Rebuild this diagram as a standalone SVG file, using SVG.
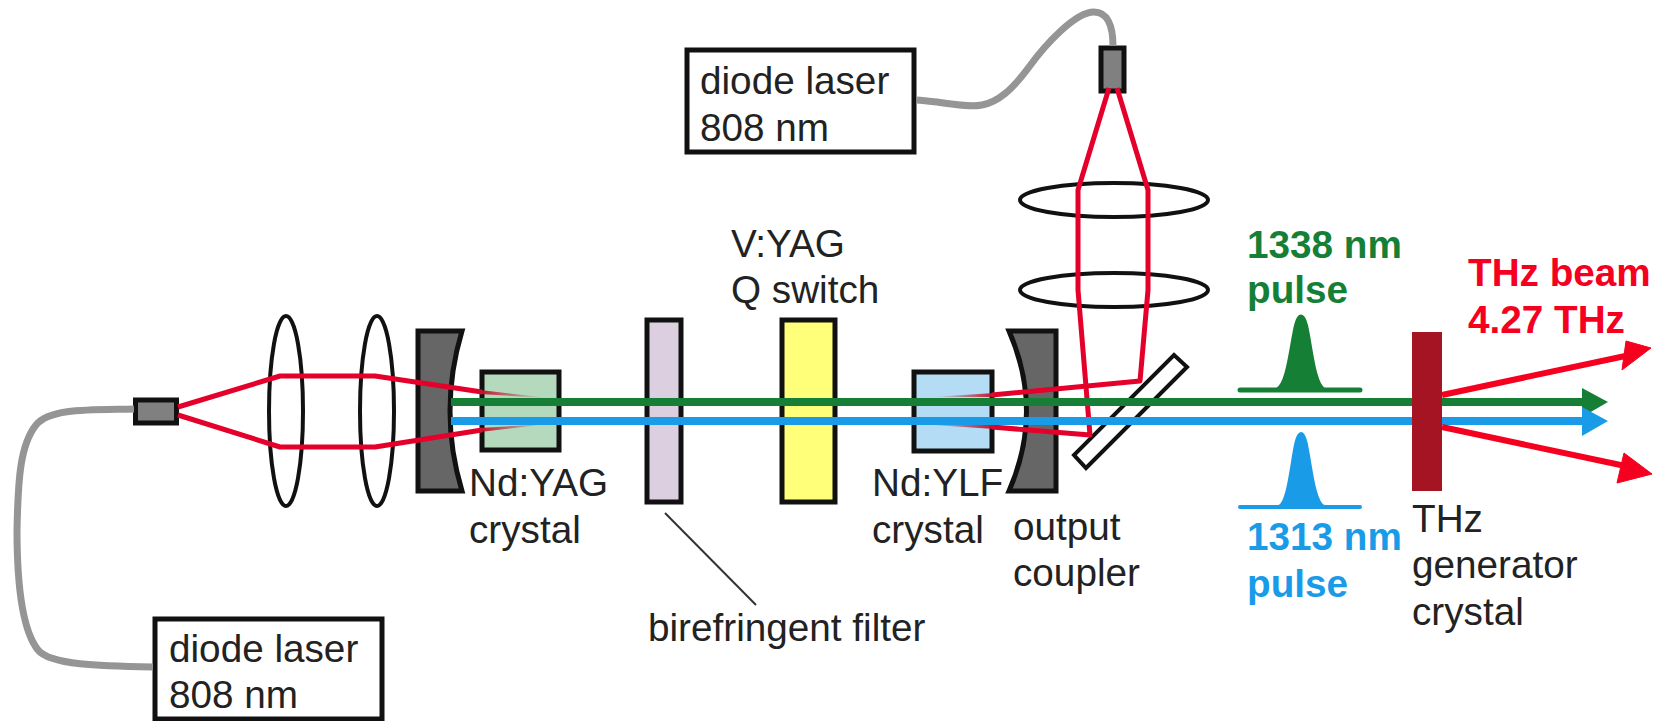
<svg xmlns="http://www.w3.org/2000/svg" width="1664" height="721" viewBox="0 0 1664 721">
<style>
text{font-family:"Liberation Sans",Arial,sans-serif;font-size:38.7px;fill:#222}
.b{font-weight:bold}
.g{fill:#158035}.bl{fill:#1a9be8}.r{fill:#f5001e}
.box{fill:#fff;stroke:#111;stroke-width:5}
.el{fill:none;stroke:#111;stroke-width:4}
.op{stroke:#111;stroke-width:5}
.dk{fill:#666}
.src{fill:#808080;stroke:#111;stroke-width:5}
.fib{fill:none;stroke:#959595;stroke-width:7}
.red{fill:none;stroke:#e4002b;stroke-width:5;stroke-linejoin:round}
</style>
<defs>
<linearGradient id="fadeL" x1="0" x2="1" y1="0" y2="0"><stop offset="0" stop-color="#c8142c"/><stop offset="1" stop-color="#a83040" stop-opacity="0"/></linearGradient>
<linearGradient id="fadeR" x1="1" x2="0" y1="0" y2="0"><stop offset="0" stop-color="#c8142c"/><stop offset="1" stop-color="#a83040" stop-opacity="0"/></linearGradient>
</defs>
<g id="laser-bottom"><rect class="box" x="155" y="619" width="227" height="100"/><text x="169" y="662">diode laser</text><text x="169" y="708">808 nm</text></g>
<g id="laser-top"><rect class="box" x="687" y="50" width="227" height="102"/><text x="700" y="94">diode laser</text><text x="700" y="141">808 nm</text></g>
<g id="lens-1"><ellipse class="el" cx="286" cy="411" rx="17" ry="95"/></g>
<g id="lens-2"><ellipse class="el" cx="377" cy="411" rx="17" ry="95"/></g>
<g id="lens-3"><ellipse class="el" cx="1114" cy="200" rx="94" ry="17"/></g>
<g id="lens-4"><ellipse class="el" cx="1114" cy="290" rx="94" ry="17"/></g>
<g id="mirror"><path class="op dk" d="M418 331H462Q438 411 462 491H418Z"/></g>
<g id="nd-yag"><rect class="op" fill="#b5d9bd" x="482" y="372" width="77" height="78"/><text x="469" y="496">Nd:YAG</text><text x="469" y="543">crystal</text></g>
<g id="filter"><rect class="op" fill="#dcd0e0" x="647" y="320" width="34" height="182"/><text x="648" y="641">birefringent filter</text></g>
<g id="q-switch"><rect class="op" fill="#ffff7a" x="782" y="320" width="53" height="182"/><text x="731" y="257">V:YAG</text><text x="731" y="303">Q switch</text></g>
<g id="nd-ylf"><rect class="op" fill="#b5dcf5" x="914" y="372" width="78" height="79"/><text x="872" y="496">Nd:YLF</text><text x="872" y="543">crystal</text></g>
<g id="coupler"><path class="op dk" d="M1009 331H1056V491H1009Q1044 411 1009 331Z"/><text x="1013" y="540">output</text><text x="1013" y="586">coupler</text></g>
<g id="splitter"><path fill="#fff" stroke="#111" stroke-width="4" d="M1174 355L1187 367L1086 468L1074 455Z"/></g>
<g id="source-left"><rect class="src" x="135.500" y="400" width="41" height="23"/></g>
<g id="source-top"><rect class="src" x="1101" y="48" width="23" height="43"/></g>
<g id="connectors">
<path class="fib" d="M134 409C90 410 50 408 36 425C20 445 18 480 17 530C17 580 22 630 38 650C50 665 100 666 153 667"/>
<path class="fib" d="M917 100C945 102 965 108 982 105C998 102 1012 90 1029 67C1045 45 1075 12 1094 12C1107 12 1113 25 1113 46"/>
<path class="red" d="M178 407L280 376H375L482 392"/>
<path class="red" d="M178 415L280 447H375L482 430"/>
<path class="red" d="M1109 88L1078 190V290L1090 435L992 427"/>
<path class="red" d="M1117 88L1148 190V290L1140 381L992 395"/>
<path fill="url(#fadeL)" d="M480 390L547 398L480 394Z"/>
<path fill="url(#fadeL)" d="M480 428L547 424L480 432Z"/>
<path fill="url(#fadeR)" d="M994 393L933 397L994 397Z"/>
<path fill="url(#fadeR)" d="M994 425L918 424L994 429Z"/>
<path d="M451 402H1584" stroke="#158035" stroke-width="8" fill="none"/>
<path d="M1582 388L1608 402L1582 417Z" fill="#158035"/>
<path d="M451 421H1584" stroke="#1a9be8" stroke-width="8" fill="none"/>
<path d="M1582 407L1608 421L1582 436Z" fill="#1a9be8"/>
<path d="M665 513L756 605" stroke="#333" stroke-width="2" fill="none"/>
<path d="M1442 395L1630 355" stroke="#f5001e" stroke-width="6" fill="none"/>
<path d="M1651 348L1626 341L1622 370Z" fill="#f5001e" stroke="#f5001e"/>
<path d="M1442 427L1630 467" stroke="#f5001e" stroke-width="6" fill="none"/>
<path d="M1652 474L1624 453L1617 483Z" fill="#f5001e" stroke="#f5001e"/>
</g>
<g id="pulse-green"><path fill="#158035" stroke="#158035" stroke-width="5" stroke-linejoin="round" d="M1240 390H1277C1292 385 1293 317 1301 317C1309 317 1310 385 1324 390H1360Z"/><text class="b g" x="1247" y="258">1338 nm</text><text class="b g" x="1247" y="303">pulse</text></g>
<g id="pulse-blue"><path fill="#1a9be8" stroke="#1a9be8" stroke-width="4" stroke-linejoin="round" d="M1240 507H1279C1292 503 1293 434 1301 434C1309 434 1310 503 1324 507H1360Z"/><text class="b bl" x="1247" y="550">1313 nm</text><text class="b bl" x="1247" y="597">pulse</text></g>
<g id="thz-crystal"><rect x="1412" y="332" width="30" height="159" fill="#a51423"/><text x="1412" y="532">THz</text><text x="1412" y="578">generator</text><text x="1412" y="625">crystal</text></g>
<g id="thz-beam"><text class="b r" x="1468" y="286">THz beam</text><text class="b r" x="1468" y="333">4.27 THz</text></g>
</svg>
